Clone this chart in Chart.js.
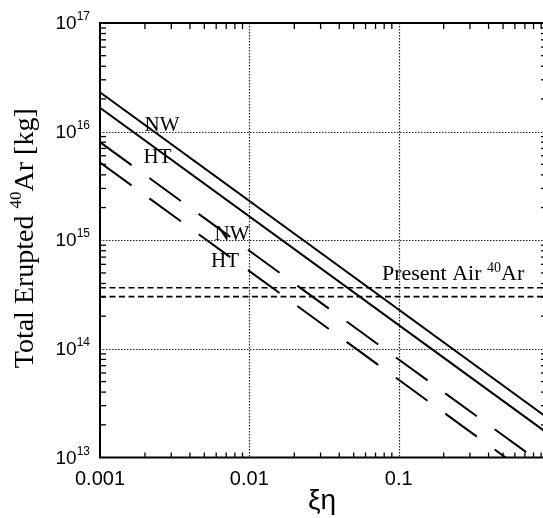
<!DOCTYPE html>
<html><head><meta charset="utf-8">
<style>html,body{margin:0;padding:0;background:#fff;overflow:hidden}#wrap{width:560px;height:518px}</style>
<script src="https://cdn.jsdelivr.net/npm/chart.js@4/dist/chart.umd.min.js"></script>
</head><body><div id="wrap"><canvas id="c" width="560" height="518"></canvas></div>
<script>
// ---- data ----
const xiEta      = [0.001, 1];
const nwSolid    = [2.3e16, 2.3e13];
const htSolid    = [1.66e16, 1.66e13];
const nwDashed   = [8.0e15, 8.0e12];
const htDashed   = [5.2e15, 5.2e12];
const airX       = [0.001, 1];
const airUpper   = [3.65e14, 3.65e14];
const airLower   = [3.03e14, 3.03e14];
const xTickValues = [0.001, 0.01, 0.1];
const xTickLabels = ['0.001', '0.01', '0.1'];
const yTickValues = [1e13, 1e14, 1e15, 1e16, 1e17];
const yTickExps   = ['13', '14', '15', '16', '17'];
const lineLabels  = [
  {t: 'NW', x: 0.0026,  y: 1.01e16},
  {t: 'HT', x: 0.00243, y: 5.09e15},
  {t: 'NW', x: 0.00766, y: 1.0e15},
  {t: 'HT', x: 0.00687, y: 5.67e14}
];
const airLabel = {x: 0.0773, y: 4.31e14};

const pts = (xs, ys) => xs.map((x, i) => ({x: x, y: ys[i]}));
const SANS = '"Liberation Sans", Arial, sans-serif';
const SERIF = '"Liberation Serif", "Times New Roman", serif';

function runs(ctx, parts, x, y, align) {
  let w = 0;
  parts.forEach(p => { ctx.font = p.f; p.w = ctx.measureText(p.t).width; w += p.w; });
  let cx = align === 'center' ? x - w / 2 : align === 'right' ? x - w : x;
  ctx.textAlign = 'left';
  ctx.textBaseline = 'alphabetic';
  parts.forEach(p => { ctx.font = p.f; ctx.fillText(p.t, cx, y + (p.dy || 0)); cx += p.w; });
}

const deco = {
  id: 'deco',
  beforeDatasetsDraw(chart) {
    const {ctx, chartArea: a, scales: {x, y}} = chart;
    ctx.save();
    ctx.strokeStyle = '#222';
    ctx.lineWidth = 1.2;
    ctx.setLineDash([1.5, 1.5]);
    xTickValues.forEach(v => {
      if (v === 0.001) return;
      const px = Math.round(x.getPixelForValue(v)) + 0.5;
      ctx.beginPath(); ctx.moveTo(px, a.top); ctx.lineTo(px, a.bottom); ctx.stroke();
    });
    yTickValues.forEach(v => {
      if (v === 1e13 || v === 1e17) return;
      const py = Math.round(y.getPixelForValue(v)) + 0.5;
      ctx.beginPath(); ctx.moveTo(a.left, py); ctx.lineTo(a.right, py); ctx.stroke();
    });
    ctx.restore();
  },
  afterDatasetsDraw(chart) {
    const {ctx, chartArea: a, scales: {x, y}} = chart;
    ctx.save();
    ctx.strokeStyle = '#000';
    ctx.fillStyle = '#000';
    ctx.setLineDash([]);
    // frame
    ctx.lineWidth = 2;
    ctx.strokeRect(a.left, a.top, a.right - a.left, a.bottom - a.top);
    // minor ticks
    ctx.lineWidth = 1.3;
    for (let d = -3; d < 0; d++) {
      for (let k = 2; k <= 9; k++) {
        const px = x.getPixelForValue(k * Math.pow(10, d));
        ctx.beginPath(); ctx.moveTo(px, a.top); ctx.lineTo(px, a.top + 6); ctx.stroke();
        ctx.beginPath(); ctx.moveTo(px, a.bottom); ctx.lineTo(px, a.bottom - 5); ctx.stroke();
      }
    }
    for (let d = 13; d < 17; d++) {
      for (let k = 2; k <= 9; k++) {
        const py = y.getPixelForValue(k * Math.pow(10, d));
        ctx.beginPath(); ctx.moveTo(a.left, py); ctx.lineTo(a.left + 6, py); ctx.stroke();
        ctx.beginPath(); ctx.moveTo(a.right, py); ctx.lineTo(a.right - 7, py); ctx.stroke();
      }
    }
    // y tick labels
    yTickValues.forEach((v, i) => {
      const py = y.getPixelForValue(v);
      runs(ctx, [{t: '10', f: '19px ' + SANS}, {t: yTickExps[i], f: '12px ' + SANS, dy: -9}], a.left - 10, py + 6, 'right');
    });
    // x tick labels
    xTickValues.forEach((v, i) => {
      const px = x.getPixelForValue(v);
      runs(ctx, [{t: xTickLabels[i], f: '20px ' + SANS}], px, a.bottom + 27, 'center');
    });
    // x title
    runs(ctx, [{t: 'ξη', f: '28px ' + SANS}], (a.left + a.right) / 2 - 2, 509, 'center');
    // y title
    ctx.save();
    ctx.translate(33, (a.top + a.bottom) / 2 - 2);
    ctx.rotate(-Math.PI / 2);
    runs(ctx, [{t: 'Total Erupted ', f: '28px ' + SERIF}, {t: '40', f: '17px ' + SERIF, dy: -12}, {t: 'Ar [kg]', f: '28px ' + SERIF}], 0, 0, 'center');
    ctx.restore();
    // line labels
    lineLabels.forEach(l => {
      runs(ctx, [{t: l.t, f: '21px ' + SERIF}], x.getPixelForValue(l.x), y.getPixelForValue(l.y), 'center');
    });
    runs(ctx, [{t: 'Present Air ', f: '22px ' + SERIF}, {t: '40', f: '14px ' + SERIF, dy: -8}, {t: 'Ar', f: '22px ' + SERIF}],
      x.getPixelForValue(airLabel.x), y.getPixelForValue(airLabel.y), 'left');
    ctx.restore();
  }
};

const solid = (d) => ({data: d, borderColor: '#000', borderWidth: 2, pointRadius: 0, fill: false});
const longDash = (d) => ({data: d, borderColor: '#000', borderWidth: 2, borderDash: [39, 22], pointRadius: 0, fill: false});
const shortDash = (d) => ({data: d, borderColor: '#000', borderWidth: 1.6, borderDash: [6, 3.5], pointRadius: 0, fill: false});

new Chart(document.getElementById('c'), {
  type: 'line',
  data: {datasets: [
    solid(pts(xiEta, nwSolid)),
    solid(pts(xiEta, htSolid)),
    longDash(pts(xiEta, nwDashed)),
    longDash(pts(xiEta, htDashed)),
    shortDash(pts(airX, airUpper)),
    shortDash(pts(airX, airLower))
  ]},
  options: {
    responsive: false, animation: false, devicePixelRatio: 1,
    layout: {padding: {left: 100, top: 23, right: 12, bottom: 60.5}},
    plugins: {legend: {display: false}, tooltip: {enabled: false}},
    elements: {line: {tension: 0}},
    scales: {
      x: {type: 'logarithmic', min: 0.001, max: 1, display: false},
      y: {type: 'logarithmic', min: 1e13, max: 1e17, display: false}
    }
  },
  plugins: [deco]
});
</script></body></html>
